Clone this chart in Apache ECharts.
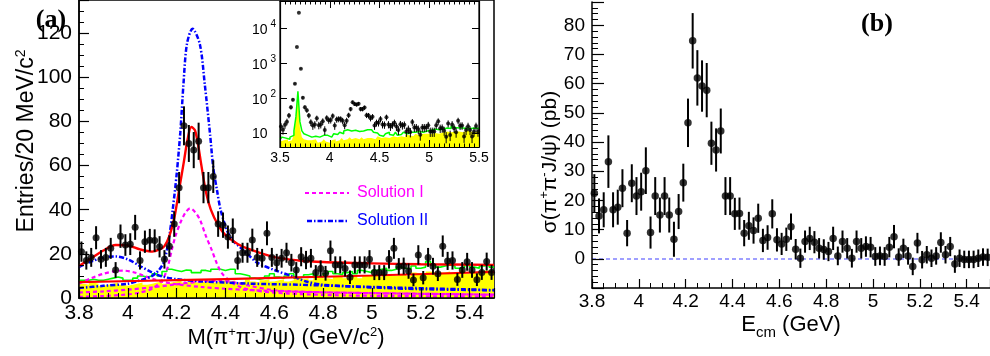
<!DOCTYPE html>
<html><head><meta charset="utf-8">
<script src="https://cdn.jsdelivr.net/npm/echarts@6.0.0/dist/echarts.min.js"></script>
<style>html,body{margin:0;padding:0;background:#fff}#c{width:990px;height:356px}</style>
</head><body><div id="c"></div><script>
// ---------- panel (a): M(pi+pi-J/psi), 20 MeV bins ----------
const massBins = [
3.81,3.83,3.85,3.87,3.89,3.91,3.93,3.95,3.97,3.99,
4.01,4.03,4.05,4.07,4.09,4.11,4.13,4.15,4.17,4.19,
4.21,4.23,4.25,4.27,4.29,4.31,4.33,4.35,4.37,4.39,
4.41,4.43,4.45,4.47,4.49,4.51,4.53,4.55,4.57,4.59,
4.61,4.63,4.65,4.67,4.69,4.71,4.73,4.75,4.77,4.79,
4.81,4.83,4.85,4.87,4.89,4.91,4.93,4.95,4.97,4.99,
5.01,5.03,5.05,5.07,5.09,5.11,5.13,5.15,5.17,5.19,
5.21,5.23,5.25,5.27,5.29,5.31,5.33,5.35,5.37,5.39,
5.41,5.43,5.45,5.47,5.49];
const entries = [
21,17,18.4,27.3,17.5,18.4,22.5,12.7,28,24,
24.4,32,17,25.5,26.2,26,23.2,17.5,23.5,33.5,
50,78,70,67,71,50,50,55,33.5,33,
27.6,30.5,17,20.5,20.5,26.3,18.4,18,29.3,18.4,
16,18,20.5,16,12.7,18.7,17.2,18,11.5,13.4,
11.2,21.4,15,15,13.4,9.4,15,15,15,17.5,
11.5,11.5,11.5,17.5,22.5,14.3,14.5,12.2,8.2,19.5,
9.2,18.4,14.4,11,23.5,16.8,17,8.4,12.7,16.4,
12.7,8.3,11.6,16.5,11.6];
const bkgYellow = [
6.5,6,7,6.5,5.5,6,6.5,7,6,5.5,
6,6.5,7,6,6.5,7,7.5,6.5,7,7.5,
8,7,7.5,8,7,7.5,8,7,7.5,8,
7.5,8,7,7.5,8.5,7.5,7,8,8.5,7.5,
8,8.5,7.5,8,9,8.5,9,8,9.5,9,
9,8.5,9.5,10,9,9.5,10,9,10,10.5,
10,9.5,10.5,11,10,10.5,11,10,11.5,11,
11,12,11.5,10.5,11.5,12,11,11.5,12.5,11,
11.5,12,11,12.5,12];
const bkgGreen = [
8,8,8.5,8,8,8.5,9,9.5,9,8,
8,9,10,9.5,10,11,10,12,13,12.5,
12,12.7,12.5,11.5,11.5,12.5,12,13,13,12.5,
13,13,11,10.5,10,9,8.5,9,10,11,
9.5,9,10,11,9,9.5,10.5,11,10,9.5,
11,12,11,10.5,11.5,12,11,12.5,12,11.5,
12.5,13,13.5,12.5,13,14,13.5,13,14.5,13.5,
14,16.5,15,14,14.5,15,14.5,13.5,14,15,
14,13.5,14.5,15,14];

// fit curves
const totX = [3.80,3.85,3.90,3.95,4.00,4.05,4.10,4.13,4.15,4.17,4.19,4.21,4.23,4.245,4.26,4.275,4.29,4.30,4.32,4.34,4.37,4.40,4.45,4.50,4.60,4.70,4.80,5.00,5.20,5.50];
const totY = [14.5,18,21.5,24,23.8,22,21,22,23.5,28,36,49,62,72,77.5,76,68,61,48,40,33,28.5,24.5,22,18.5,17,16.3,15.7,15.3,15];
const bkgX = [3.80,4.20,4.60,5.00,5.50];
const bkgY = [7.2,8.1,9.1,10.2,11.8];
const s1aX = [3.80,3.90,4.00,4.05,4.10,4.14,4.16,4.18,4.195,4.214,4.235,4.255,4.275,4.296,4.32,4.344,4.364,4.385,4.42,4.46,4.50,4.60,4.80,5.00,5.50];
const s1aY = [0.5,0.9,1.6,2.5,4.2,8,12.7,21.7,28,33.8,38.5,40.6,39,35.3,28,21.7,15.8,11.3,7.5,5,3.8,2.4,1.4,1,0.6];
const s1bX = [3.80,3.85,3.90,3.95,3.98,4.02,4.06,4.10,4.15,4.20,4.30,4.40,4.50,4.70,5.00,5.50];
const s1bY = [6.5,9,11,12.2,12.4,11.8,10.3,8.7,7.2,6.2,5,4.2,3.6,2.8,2.2,1.5];
const s1cX = [3.80,3.90,4.00,4.10,4.20,4.30,4.38,4.45,4.50,4.60,4.80,5.00,5.50];
const s1cY = [2.5,3,3.8,4.8,6.2,7.5,7.8,6.8,5.5,3.5,2.6,2.2,1.5];
const s2aX = [3.80,3.90,4.00,4.05,4.10,4.13,4.15,4.17,4.185,4.20,4.215,4.228,4.242,4.265,4.295,4.315,4.337,4.35,4.365,4.38,4.405,4.43,4.46,4.49,4.53,4.60,4.68,4.73,4.80,5.00,5.20,5.50];
const s2aY = [4.5,5.5,6.5,8,10,13,17,28,41,56,75,97,115,122,115,97,74,59,49,40,31,26,23,20,16,12.7,9.6,7.5,6,4.8,4,3.5];
const s2bX = [3.80,3.85,3.90,3.95,4.00,4.05,4.10,4.15,4.20,4.30,4.40,4.50,4.70,5.00,5.50];
const s2bY = [14,16.5,18.3,18.8,17.5,14.5,11.5,9.5,8.5,7.5,7,6.5,6,5,3.6];

// inset: extra bins below 3.8 (above 3.8 the inset shows the same data)
const insetBins = [3.51,3.53,3.55,3.57,3.59,3.61,3.63,3.65,3.67,3.69,3.71,3.73,3.75,3.77,3.79];
const insetEntries = [16,13,18,22,33,56,92,260,2900,27000,700,105,56,46,33];
const insetYellow = [6,6.5,6,7,6,6.5,7,10,25,140,15,8,7,6.5,6];
const insetGreen = [7,8,7.5,8,7,8,9,12,30,160,22,12,10,9,8];
const insetTicks = [10,100,1000,10000];

// ---------- panel (b): cross section vs Ecm ----------
const ecmBins = massBins;
const xsec = [
22.5,14.7,16.8,33.3,16.8,17.7,24.2,8.8,25.9,21.5,
23,30.2,9,21.5,15,21.5,15,6.7,16.2,26.1,
46.6,74.7,62,59.2,57.8,39.6,37.3,43.8,21.5,21.5,
15.4,15.5,8.8,11.3,9.7,13.9,6.3,7.3,15.4,6.5,
5.1,6.7,11,3.3,0.2,5.9,7,5.7,3.6,3.2,
2.5,7,1,5.9,3.6,0.2,5.9,3.6,4.2,4,
0.8,1,0.8,4,7.6,0.6,3.6,1,-2.6,5.4,
-0.3,1.4,0.2,1,5.6,1.4,4.2,-1.8,0.2,-0.2,
-0.2,-0.2,0.2,0.6,0.5];
const xsecErr = [
6.5,6,6,9,6,6,6.5,4.5,6.5,6.5,
6.5,8,5.5,6.5,6,6.5,6,6,6,6.5,
8.3,9.5,9.5,8.8,9.3,7.4,7.4,7.7,6.5,6.5,
5.5,5.5,4.5,4.8,4.5,5,4,4.2,5,4,
3.8,4,4.5,3.5,3.3,3.8,4,3.8,3.5,3.5,
3.3,4,3.2,3.8,3.5,3.2,3.8,3.5,3.5,3.5,
3.2,3.2,3.2,3.5,4,3,3.3,3,3,3.5,
3,3,3,3,3.5,3,3.3,3,3,3,
3,3,3,3,3];

// ---------- helpers ----------
const FONT = 'Liberation Sans';
const zip = (xs, ys) => xs.map((x, i) => [x, ys[i]]);
function stepData(xs, ys) {
  const d = xs.map((c, i) => [+(c - 0.01).toFixed(3), ys[i]]);
  d.push([+(xs[xs.length - 1] + 0.01).toFixed(3), ys[ys.length - 1]]);
  return d;
}
function errBar(width) {
  return function (params, api) {
    const p1 = api.coord([api.value(0), api.value(1)]);
    const p2 = api.coord([api.value(0), api.value(2)]);
    return {type: 'line', shape: {x1: p1[0], y1: p1[1], x2: p2[0], y2: p2[1]},
            style: {stroke: '#000', lineWidth: width}};
  };
}
// Poisson errors sqrt(N) for the event counts
const poisson = (xs, ys) => xs.map((x, i) => [x, ys[i] - Math.sqrt(ys[i]), ys[i] + Math.sqrt(ys[i])]);

const insetAllBins = insetBins.concat(massBins);
const insetAllEntries = insetEntries.concat(entries);
const insetAllYellow = insetYellow.concat(bkgYellow);
const insetAllGreen = insetGreen.concat(bkgGreen);

const axLine = {onZero: false, lineStyle: {color: '#000', width: 1.5}};
const lbl = (size, extra) => Object.assign({color: '#000', fontSize: size, fontFamily: FONT}, extra || {});

function curve(xs, ys, color, width, type) {
  return {type: 'line', xAxisIndex: 0, yAxisIndex: 0, data: zip(xs, ys), smooth: 0.3,
          symbol: 'none', lineStyle: {color: color, width: width, type: type}, z: 3, silent: true};
}

const option = {
  animation: false,
  backgroundColor: '#fff',
  grid: [
    {left: 79, top: 0, width: 415, height: 298, show: true, borderColor: '#000', borderWidth: 1.5,
     backgroundColor: 'transparent', outerBoundsMode: 'none'},
    {left: 280, top: 1, width: 199, height: 146, show: true, borderColor: '#000', borderWidth: 1.2,
     backgroundColor: '#fff', outerBoundsMode: 'none'},
    {left: 592, top: 2, width: 398, height: 286, outerBoundsMode: 'none'}
  ],
  xAxis: [
    {gridIndex: 0, type: 'value', min: 3.8, max: 5.5, interval: 0.2, z: 10,
     axisLine: axLine, splitLine: {show: false},
     axisTick: {inside: true, length: 10, lineStyle: {color: '#000', width: 1.2}},
     minorTick: {show: true, splitNumber: 5, length: 5, lineStyle: {color: '#000', width: 1}},
     axisLabel: lbl(21, {showMaxLabel: false, margin: 5})},
    {gridIndex: 1, type: 'value', min: 3.5, max: 5.5, interval: 0.5, z: 10,
     axisLine: {onZero: false, lineStyle: {color: '#000', width: 1.2}}, splitLine: {show: false},
     axisTick: {inside: true, length: 7, lineStyle: {color: '#000', width: 1}},
     minorTick: {show: true, splitNumber: 10, length: 3.5, lineStyle: {color: '#000', width: 1}},
     axisLabel: lbl(14, {margin: 4})},
    {gridIndex: 1, type: 'value', position: 'top', min: 3.5, max: 5.5, interval: 0.5, z: 10,
     axisLine: {onZero: false, lineStyle: {color: '#000', width: 1.2}}, splitLine: {show: false},
     axisTick: {inside: true, length: 7, lineStyle: {color: '#000', width: 1}},
     minorTick: {show: true, splitNumber: 10, length: 3.5, lineStyle: {color: '#000', width: 1}},
     axisLabel: {show: false}},
    {gridIndex: 2, type: 'value', min: 3.8, max: 5.5, interval: 0.2, z: 10,
     axisLine: axLine, splitLine: {show: false},
     axisTick: {inside: true, length: 9, lineStyle: {color: '#000', width: 1.2}},
     minorTick: {show: true, splitNumber: 4, length: 5, lineStyle: {color: '#000', width: 1}},
     axisLabel: lbl(19, {showMaxLabel: false, margin: 4})}
  ],
  yAxis: [
    {gridIndex: 0, type: 'value', min: 0, max: 135, interval: 20, z: 10,
     axisLine: axLine, splitLine: {show: false},
     axisTick: {inside: true, length: 10, lineStyle: {color: '#000', width: 1.2}},
     minorTick: {show: true, splitNumber: 4, length: 5, lineStyle: {color: '#000', width: 1}},
     axisLabel: lbl(21, {showMaxLabel: false, margin: 7})},
    {gridIndex: 1, type: 'log', min: 4.2, max: 58000, z: 10,
     axisLine: {onZero: false, lineStyle: {color: '#000', width: 1.2}}, splitLine: {show: false},
     axisTick: {inside: true, length: 7, lineStyle: {color: '#000', width: 1}},
     axisLabel: {showMinLabel: false, showMaxLabel: false, margin: 28, align: 'left',
       formatter: function (v) {
         const e = Math.round(Math.log10(v));
         return e === 1 ? '{b|10}' : '{b|10}{s|' + e + '}';
       },
       rich: {b: {fontSize: 14, fontFamily: FONT, color: '#000', verticalAlign: 'bottom'},
              s: {fontSize: 10, fontFamily: FONT, color: '#000', verticalAlign: 'bottom', padding: [0, 0, 8, 3]}}}},
    {gridIndex: 1, type: 'log', position: 'right', min: 4.2, max: 58000, z: 10,
     axisLine: {onZero: false, lineStyle: {color: '#000', width: 1.2}}, splitLine: {show: false},
     axisTick: {inside: true, length: 7, lineStyle: {color: '#000', width: 1}},
     axisLabel: {show: false}},
    {gridIndex: 2, type: 'value', min: -10, max: 88, interval: 10, z: 10,
     axisLine: axLine, splitLine: {show: false},
     axisTick: {inside: true, length: 12, lineStyle: {color: '#000', width: 1.2}},
     minorTick: {show: true, splitNumber: 5, length: 6, lineStyle: {color: '#000', width: 1}},
     axisLabel: lbl(19, {showMinLabel: false, showMaxLabel: false, margin: 7})}
  ],
  series: [
    // panel (a) main
    {type: 'line', xAxisIndex: 0, yAxisIndex: 0, step: 'end', data: stepData(massBins, bkgYellow),
     symbol: 'none', lineStyle: {width: 0, color: '#ffff00'}, areaStyle: {color: '#ffff00', opacity: 1}, z: 1, silent: true},
    {type: 'line', xAxisIndex: 0, yAxisIndex: 0, step: 'end', data: stepData(massBins, bkgGreen),
     symbol: 'none', lineStyle: {width: 1.6, color: '#00ff00'}, z: 2, silent: true},
    curve(s1cX, s1cY, '#ff00ff', 2.2, [4, 3]),
    curve(s1bX, s1bY, '#ff00ff', 2.2, [4, 3]),
    curve(s1aX, s1aY, '#ff00ff', 2.2, [4, 3]),
    curve(s2bX, s2bY, '#0000ff', 2.5, [5, 2, 1.5, 2]),
    curve(s2aX, s2aY, '#0000ff', 2.5, [5, 2, 1.5, 2]),
    curve(bkgX, bkgY, '#ff0000', 2.2, 'solid'),
    curve(totX, totY, '#ff0000', 2.4, 'solid'),
    {type: 'custom', xAxisIndex: 0, yAxisIndex: 0, renderItem: errBar(2), data: poisson(massBins, entries),
     encode: {x: 0, y: [1, 2]}, z: 4, silent: true},
    {type: 'scatter', xAxisIndex: 0, yAxisIndex: 0, data: zip(massBins, entries), symbolSize: 7,
     itemStyle: {color: '#000'}, z: 5, silent: true},
    // inset
    {type: 'line', xAxisIndex: 1, yAxisIndex: 1, step: 'end', data: stepData(insetAllBins, insetAllYellow),
     symbol: 'none', lineStyle: {width: 0, color: '#ffff00'}, areaStyle: {color: '#ffff00', opacity: 1, origin: 'start'}, z: 1, silent: true},
    {type: 'line', xAxisIndex: 1, yAxisIndex: 1, step: 'end', data: stepData(insetAllBins, insetAllGreen),
     symbol: 'none', lineStyle: {width: 1.5, color: '#00ff00'}, z: 2, silent: true},
    {type: 'custom', xAxisIndex: 1, yAxisIndex: 1, renderItem: errBar(1), data: poisson(insetAllBins, insetAllEntries),
     encode: {x: 0, y: [1, 2]}, z: 4, silent: true},
    {type: 'scatter', xAxisIndex: 1, yAxisIndex: 1, data: zip(insetAllBins, insetAllEntries), symbolSize: 4,
     itemStyle: {color: '#000'}, z: 5, silent: true},
    // panel (b)
    {type: 'custom', xAxisIndex: 3, yAxisIndex: 3, renderItem: errBar(2),
     data: ecmBins.map((x, i) => [x, xsec[i] - xsecErr[i], xsec[i] + xsecErr[i]]),
     encode: {x: 0, y: [1, 2]}, z: 4, silent: true},
    {type: 'scatter', xAxisIndex: 3, yAxisIndex: 3, data: zip(ecmBins, xsec), symbolSize: 7.5,
     itemStyle: {color: '#000'}, z: 5, silent: true,
     markLine: {silent: true, symbol: 'none', label: {show: false}, z: 3,
       lineStyle: {color: '#8080ff', type: [4, 3], width: 1.5}, data: [{yAxis: 0}]}}
  ],
  graphic: [
    {type: 'text', x: 51, y: 20, z: 100, style: {text: '(a)', font: 'bold 26px "Liberation Serif"', fill: '#000',
      align: 'center', verticalAlign: 'middle', textAlign: 'center', textVerticalAlign: 'middle'}},
    {type: 'text', x: 877, y: 24, z: 100, style: {text: '(b)', font: 'bold 26px "Liberation Serif"', fill: '#000',
      align: 'center', verticalAlign: 'middle', textAlign: 'center', textVerticalAlign: 'middle'}},
    {type: 'text', x: 286, y: 337, z: 100, style: {
      text: '{n|M(π}{s|+}{n|π}{s|-}{n|J/ψ) (GeV/c}{s|2}{n|)}', fill: '#000',
      rich: {n: {fontSize: 22, fontFamily: FONT, verticalAlign: 'bottom'},
             s: {fontSize: 13, fontFamily: FONT, verticalAlign: 'bottom', padding: [0, 0, 10, 0]}},
      align: 'center', verticalAlign: 'middle', textAlign: 'center', textVerticalAlign: 'middle'}},
    {type: 'text', x: 26, y: 141, rotation: Math.PI / 2, z: 100, style: {
      text: '{n|Entries/20 MeV/c}{s|2}', fill: '#000',
      rich: {n: {fontSize: 23, fontFamily: FONT, verticalAlign: 'bottom'},
             s: {fontSize: 14, fontFamily: FONT, verticalAlign: 'bottom', padding: [0, 0, 10, 0]}},
      align: 'center', verticalAlign: 'middle', textAlign: 'center', textVerticalAlign: 'middle'}},
    {type: 'text', x: 549, y: 162, rotation: Math.PI / 2, z: 100, style: {
      text: '{n|σ(π}{s|+}{n|π}{s|-}{n|J/ψ) (pb)}', fill: '#000',
      rich: {n: {fontSize: 21, fontFamily: FONT, verticalAlign: 'bottom'},
             s: {fontSize: 13, fontFamily: FONT, verticalAlign: 'bottom', padding: [0, 0, 10, 0]}},
      align: 'center', verticalAlign: 'middle', textAlign: 'center', textVerticalAlign: 'middle'}},
    {type: 'text', x: 791, y: 327, z: 100, style: {
      text: '{n|E}{b|cm}{n| (GeV)}', fill: '#000',
      rich: {n: {fontSize: 22, fontFamily: FONT, verticalAlign: 'bottom', padding: [0, 0, 5, 0]},
             b: {fontSize: 15, fontFamily: FONT, verticalAlign: 'bottom'}},
      align: 'center', verticalAlign: 'middle', textAlign: 'center', textVerticalAlign: 'middle'}},
    // legend of panel (a)
    {type: 'line', z: 100, shape: {x1: 305, y1: 193, x2: 349, y2: 193},
     style: {stroke: '#ff00ff', lineWidth: 2.2, lineDash: [4, 3]}},
    {type: 'text', x: 357, y: 193, z: 100, style: {text: 'Solution I', fill: '#ff00ff', font: '16px "Liberation Sans"',
      align: 'left', verticalAlign: 'middle', textAlign: 'left', textVerticalAlign: 'middle'}},
    {type: 'line', z: 100, shape: {x1: 307, y1: 221, x2: 349, y2: 221},
     style: {stroke: '#0000ff', lineWidth: 2.5, lineDash: [5, 2, 1.5, 2]}},
    {type: 'text', x: 357, y: 221, z: 100, style: {text: 'Solution II', fill: '#0000ff', font: '16px "Liberation Sans"',
      align: 'left', verticalAlign: 'middle', textAlign: 'left', textVerticalAlign: 'middle'}}
  ]
};
const chart = echarts.init(document.getElementById('c'), null, {renderer: 'canvas'});
chart.setOption(option);
</script></body></html>
